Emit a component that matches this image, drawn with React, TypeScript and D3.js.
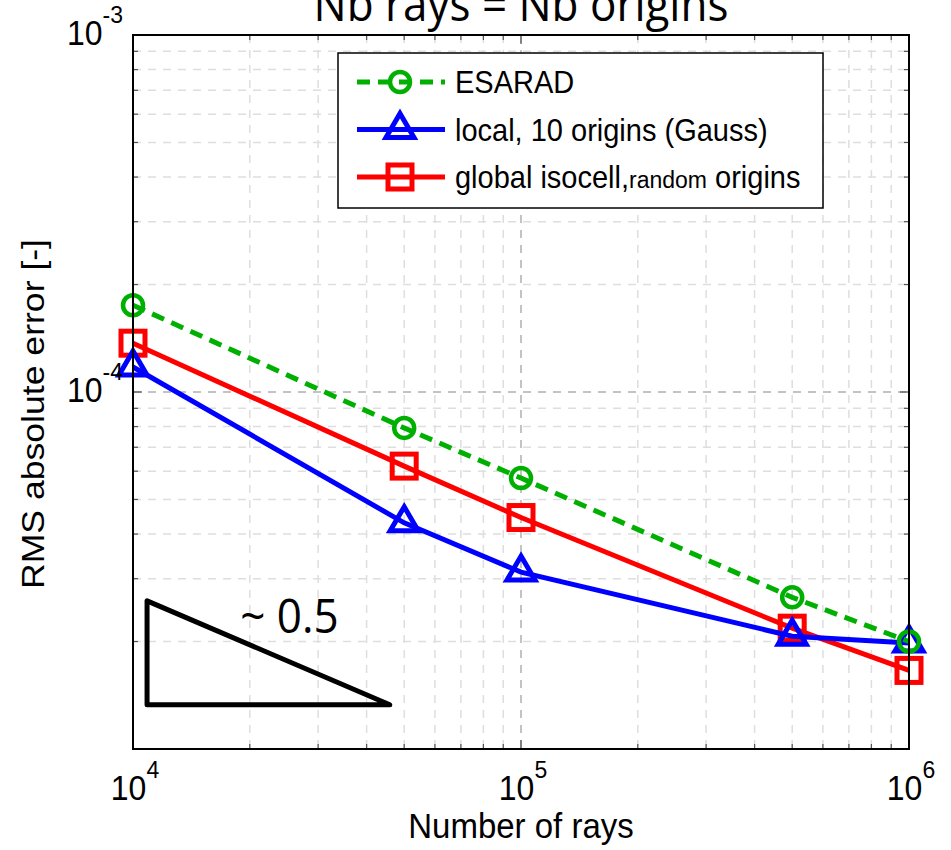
import React from "react";
import * as d3 from "d3";

// number of rays (x) and RMS absolute error (y) for the three methods
const rays = [1e4, 5e4, 1e5, 5e5, 1e6];
const esarad = [1.75e-4, 7.93e-5, 5.74e-5, 2.66e-5, 2.0e-5];
const localGauss = [1.175e-4, 4.3e-5, 3.13e-5, 2.07e-5, 1.98e-5];
const globalIsocell = [1.37e-4, 6.2e-5, 4.45e-5, 2.18e-5, 1.66e-5];

const xLabelExponents = [4, 5, 6];
const yLabelExponents = [-3, -4];

// slope annotation, in data units
const slopeTriangle: [number, number][] = [
  [1.087e4, 2.6e-5],
  [1.087e4, 1.33e-5],
  [4.59e4, 1.33e-5],
];
const slopeText = "~ 0.5";
const slopeTextAt: [number, number] = [1.89e4, 2.11e-5];

const W = 951;
const H = 850;
const MARGIN = { top: 35, right: 42, bottom: 101, left: 133 };

const SANS = "'Liberation Sans', Arial, sans-serif";
const ROUND = "'Open Sans', 'Noto Sans', sans-serif";

const GREEN = "#00b000";
const BLUE = "#0000ff";
const RED = "#ff0000";

// the original picture is a little stretched vertically
const STRETCH = 1.08;

type Marker = "circle" | "triangle" | "square";

const MarkerShape = ({ kind, x, y, color }: { kind: Marker; x: number; y: number; color: string }) => {
  if (kind === "circle")
    return <circle cx={x} cy={y} r={10} fill="none" stroke={color} strokeWidth={4.5} />;
  if (kind === "square")
    return <rect x={x - 12} y={y - 12} width={24} height={24} fill="none" stroke={color} strokeWidth={5} />;
  return (
    <path
      d={`M${x},${y - 16}L${x + 14},${y + 8}L${x - 14},${y + 8}Z`}
      fill="none"
      stroke={color}
      strokeWidth={5}
      strokeLinejoin="miter"
    />
  );
};

// text stretched vertically around its baseline
const Tall = ({ x, y, children, ...rest }: any) => (
  <g transform={`translate(${x},${y}) scale(1,${STRETCH})`}>
    <text x={0} y={0} {...rest}>
      {children}
    </text>
  </g>
);

export default function App() {
  const x = d3.scaleLog().domain([1e4, 1e6]).range([MARGIN.left, W - MARGIN.right]);
  const y = d3.scaleLog().domain([1e-5, 1e-3]).range([H - MARGIN.bottom, MARGIN.top]);
  const [x0, x1] = x.range();
  const [y0, y1] = y.range();

  const xTicks = x.ticks();
  const yTicks = y.ticks();
  const isMajor = (v: number) => Math.abs(Math.log10(v) - Math.round(Math.log10(v))) < 1e-9;

  const series = [
    { name: "global", values: globalIsocell, color: RED, marker: "square" as Marker, dash: undefined },
    { name: "local", values: localGauss, color: BLUE, marker: "triangle" as Marker, dash: undefined },
    { name: "esarad", values: esarad, color: GREEN, marker: "circle" as Marker, dash: "13 8" },
  ];

  const lineGen = d3
    .line<number>()
    .x((_, i) => x(rays[i]))
    .y((d) => y(d));

  const triPath = d3
    .line<[number, number]>()
    .x((d) => x(d[0]))
    .y((d) => y(d[1]));

  const legendRows = [
    { color: GREEN, marker: "circle" as Marker, dash: "13 8" },
    { color: BLUE, marker: "triangle" as Marker, dash: undefined },
    { color: RED, marker: "square" as Marker, dash: undefined },
  ];
  const legend = { x: 338, y: 53, w: 485, h: 155 };
  const rowY = (i: number) => legend.y + 29 + i * 47.5;

  return (
    <svg
      width={W}
      height={H}
      style={{ position: "absolute", left: 0, top: 0, background: "#fff" }}
      xmlns="http://www.w3.org/2000/svg"
    >
      <rect width={W} height={H} fill="#fff" />

      {/* title, cut by the top of the picture as in the original */}
      <Tall
        x={(x0 + x1) / 2}
        y={21}
        textAnchor="middle"
        fontFamily={ROUND}
        fontSize={44}
        fill="#000"
      >
        Nb rays = Nb origins
      </Tall>

      {/* grid */}
      <g>
        {xTicks.map((t, i) => (
          <line
            key={`gx${i}`}
            x1={x(t)}
            x2={x(t)}
            y1={y1}
            y2={y0}
            stroke={isMajor(t) ? "#b0b0b0" : "#dedede"}
            strokeWidth={1.5}
            strokeDasharray="8 7"
          />
        ))}
        {yTicks.map((t, i) => (
          <line
            key={`gy${i}`}
            x1={x0}
            x2={x1}
            y1={y(t)}
            y2={y(t)}
            stroke={isMajor(t) ? "#b0b0b0" : "#dedede"}
            strokeWidth={1.5}
            strokeDasharray="8 7"
          />
        ))}
      </g>

      {/* inward ticks on all sides */}
      <g stroke="#555" strokeWidth={1.2}>
        {xTicks.map((t, i) => {
          const len = isMajor(t) ? 9 : 5;
          return (
            <g key={`tx${i}`}>
              <line x1={x(t)} x2={x(t)} y1={y0} y2={y0 - len} />
              <line x1={x(t)} x2={x(t)} y1={y1} y2={y1 + len} />
            </g>
          );
        })}
        {yTicks.map((t, i) => {
          const len = isMajor(t) ? 9 : 5;
          return (
            <g key={`ty${i}`}>
              <line x1={x0} x2={x0 + len} y1={y(t)} y2={y(t)} />
              <line x1={x1} x2={x1 - len} y1={y(t)} y2={y(t)} />
            </g>
          );
        })}
      </g>

      {/* slope triangle */}
      <path
        d={triPath(slopeTriangle) + "Z"}
        fill="none"
        stroke="#000"
        strokeWidth={5}
        strokeLinejoin="round"
      />
      <Tall
        x={x(slopeTextAt[0])}
        y={y(slopeTextAt[1])}
        fontFamily={ROUND}
        fontSize={44}
        fill="#000"
      >
        {slopeText}
      </Tall>

      {/* data */}
      {series.map((s) => (
        <g key={s.name}>
          <path
            d={lineGen(s.values) || ""}
            fill="none"
            stroke={s.color}
            strokeWidth={5}
            strokeDasharray={s.dash}
          />
          {s.values.map((v, i) => (
            <MarkerShape key={i} kind={s.marker} x={x(rays[i])} y={y(v)} color={s.color} />
          ))}
        </g>
      ))}

      {/* axes box */}
      <rect x={x0} y={y1} width={x1 - x0} height={y0 - y1} fill="none" stroke="#000" strokeWidth={2} />

      {/* x tick labels */}
      {xLabelExponents.map((e) => (
        <Tall
          key={`xl${e}`}
          x={x(Math.pow(10, e)) + 2}
          y={y0 + 51}
          textAnchor="middle"
          fontFamily={SANS}
          fontSize={32}
          fill="#000"
        >
          10
          <tspan dy={-20} fontSize={23}>
            {e}
          </tspan>
        </Tall>
      ))}

      {/* y tick labels */}
      {yLabelExponents.map((e) => (
        <Tall
          key={`yl${e}`}
          x={123}
          y={y(Math.pow(10, e)) + 10}
          textAnchor="end"
          fontFamily={SANS}
          fontSize={32}
          fill="#000"
        >
          10
          <tspan dy={-20} fontSize={23}>
            {e}
          </tspan>
        </Tall>
      ))}

      {/* axis titles */}
      <Tall
        x={(x0 + x1) / 2}
        y={838}
        textAnchor="middle"
        fontFamily={SANS}
        fontSize={33}
        fill="#000"
      >
        Number of rays
      </Tall>
      <text
        transform={`translate(44,414) rotate(-90)`}
        textAnchor="middle"
        fontFamily={SANS}
        fontSize={32}
        textLength={350}
        lengthAdjust="spacingAndGlyphs"
        fill="#000"
      >
        RMS absolute error [-]
      </text>

      {/* legend */}
      <g>
        <rect
          x={legend.x}
          y={legend.y}
          width={legend.w}
          height={legend.h}
          fill="#fff"
          stroke="#000"
          strokeWidth={1.5}
        />
        {legendRows.map((r, i) => (
          <g key={`lg${i}`}>
            <line
              x1={357}
              x2={445}
              y1={rowY(i)}
              y2={rowY(i)}
              stroke={r.color}
              strokeWidth={5}
              strokeDasharray={r.dash}
            />
            <MarkerShape kind={r.marker} x={400} y={rowY(i)} color={r.color} />
          </g>
        ))}
        <Tall x={455} y={rowY(0) + 11} fontFamily={SANS} fontSize={29} fill="#000">
          ESARAD
        </Tall>
        <Tall x={455} y={rowY(1) + 11} fontFamily={SANS} fontSize={29} fill="#000">
          local, 10 origins (Gauss)
        </Tall>
        <Tall x={455} y={rowY(2) + 11} fontFamily={SANS} fontSize={29} fill="#000">
          global isocell,
          <tspan fontSize={23}>random</tspan>
          <tspan> origins</tspan>
        </Tall>
      </g>
    </svg>
  );
}
